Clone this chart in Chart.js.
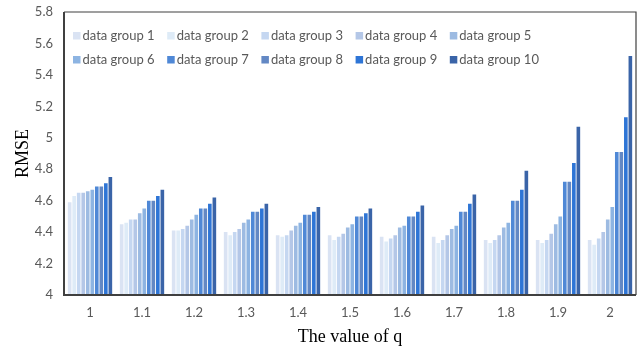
<!DOCTYPE html>
<html>
<head>
<meta charset="utf-8">
<script src="https://cdn.jsdelivr.net/npm/chart.js@4.4.1/dist/chart.umd.min.js"></script>
<style>
  html, body { margin: 0; padding: 0; background: #ffffff; }
  #wrap { width: 642px; height: 348px; position: relative; }
</style>
</head>
<body>
<div id="wrap"><canvas id="c" width="642" height="348"></canvas></div>
<script>
// q values on the x axis
const qValues = ['1', '1.1', '1.2', '1.3', '1.4', '1.5', '1.6', '1.7', '1.8', '1.9', '2'];

const groupNames = ['data group 1', 'data group 2', 'data group 3', 'data group 4', 'data group 5',
                    'data group 6', 'data group 7', 'data group 8', 'data group 9', 'data group 10'];

const groupColors = ['#dae3f3', '#deebf7', '#c5d7f1', '#b4c7e7', '#9dbbe2',
                     '#8db4e2', '#4f88d6', '#6388c4', '#2e75d6', '#3a64a8'];

// RMSE per data group, one value per q
const group1  = [4.59, 4.45, 4.41, 4.40, 4.38, 4.38, 4.37, 4.37, 4.35, 4.35, 4.35];
const group2  = [4.63, 4.46, 4.41, 4.38, 4.37, 4.35, 4.34, 4.33, 4.33, 4.33, 4.32];
const group3  = [4.65, 4.48, 4.42, 4.40, 4.38, 4.37, 4.36, 4.35, 4.35, 4.35, 4.36];
const group4  = [4.65, 4.48, 4.44, 4.42, 4.41, 4.39, 4.38, 4.38, 4.38, 4.39, 4.40];
const group5  = [4.66, 4.52, 4.48, 4.46, 4.44, 4.43, 4.43, 4.42, 4.43, 4.45, 4.48];
const group6  = [4.67, 4.55, 4.51, 4.48, 4.46, 4.45, 4.44, 4.44, 4.46, 4.50, 4.56];
const group7  = [4.69, 4.60, 4.55, 4.53, 4.51, 4.50, 4.50, 4.53, 4.60, 4.72, 4.91];
const group8  = [4.69, 4.60, 4.55, 4.53, 4.51, 4.50, 4.50, 4.53, 4.60, 4.72, 4.91];
const group9  = [4.71, 4.63, 4.58, 4.55, 4.53, 4.52, 4.53, 4.58, 4.67, 4.84, 5.13];
const group10 = [4.75, 4.67, 4.62, 4.58, 4.56, 4.55, 4.57, 4.64, 4.79, 5.07, 5.52];

const groupValues = [group1, group2, group3, group4, group5, group6, group7, group8, group9, group10];

const yTickMin = 4, yTickMax = 5.8, yTickStep = 0.2;

const labelColor = '#595959';
const frameColor = '#404040';

// Box around the plot area, heavier on the left and bottom axes
const framePlugin = {
  id: 'frame',
  afterDatasetsDraw(chart) {
    const { ctx, chartArea: a } = chart;
    ctx.save();
    ctx.strokeStyle = frameColor;
    ctx.lineWidth = 1.2;
    ctx.beginPath();
    ctx.moveTo(a.left, a.top);
    ctx.lineTo(a.right, a.top);
    ctx.lineTo(a.right, a.bottom);
    ctx.stroke();
    ctx.lineWidth = 2;
    ctx.beginPath();
    ctx.moveTo(a.left, a.top);
    ctx.lineTo(a.left, a.bottom);
    ctx.lineTo(a.right, a.bottom);
    ctx.stroke();
    ctx.restore();
  }
};

// Two-row legend inside the plot area
const innerLegend = {
  id: 'innerLegend',
  afterDraw(chart) {
    const { ctx, chartArea: a } = chart;
    ctx.save();
    ctx.font = '13px Lato, "Open Sans", sans-serif';
    ctx.textBaseline = 'middle';
    ctx.textAlign = 'left';
    chart.data.datasets.forEach((ds, i) => {
      const col = i % 5, row = Math.floor(i / 5);
      const x = a.left + 9 + col * 94.2;
      const y = a.top + 24 + row * 24;
      ctx.fillStyle = ds.backgroundColor;
      ctx.fillRect(x, y - 4, 7.5, 7.5);
      ctx.fillStyle = labelColor;
      ctx.fillText(ds.label, x + 9.5, y);
    });
    ctx.restore();
  }
};

new Chart(document.getElementById('c'), {
  type: 'bar',
  data: {
    labels: qValues,
    datasets: groupNames.map((name, i) => ({
      label: name,
      data: groupValues[i],
      backgroundColor: groupColors[i],
      borderWidth: 0,
      categoryPercentage: 0.87,
      barPercentage: 0.8
    }))
  },
  options: {
    responsive: false,
    animation: false,
    devicePixelRatio: 1,
    layout: { padding: { top: 12, right: 6, left: 0, bottom: 0 } },
    plugins: {
      legend: { display: false },
      tooltip: { enabled: false }
    },
    scales: {
      x: {
        grid: { display: false, drawTicks: false },
        border: { display: false },
        ticks: {
          color: labelColor,
          font: { family: 'Lato, "Open Sans", sans-serif', size: 13 },
          padding: 10,
          maxRotation: 0
        },
        title: {
          display: true,
          text: 'The value of q',
          color: '#000000',
          font: { family: '"Liberation Serif", "Times New Roman", serif', size: 18 },
          padding: { top: 2, bottom: 0 }
        },
        afterFit(s) { s.height = 53; s.paddingLeft = 0; s.paddingRight = 0; }
      },
      y: {
        min: yTickMin,
        max: yTickMax,
        grid: { display: false, drawTicks: false },
        border: { display: false },
        ticks: {
          stepSize: yTickStep,
          color: labelColor,
          font: { family: 'Lato, "Open Sans", sans-serif', size: 13 },
          padding: 11,
          callback: (v) => String(Number(v.toFixed(1)))
        },
        title: {
          display: true,
          text: 'RMSE',
          color: '#000000',
          font: { family: '"Liberation Serif", "Times New Roman", serif', size: 18 },
          padding: { top: 12, bottom: 0 }
        },
        afterFit(s) { s.width = 64; s.paddingTop = 0; s.paddingBottom = 0; }
      }
    }
  },
  plugins: [framePlugin, innerLegend]
});
</script>
</body>
</html>
